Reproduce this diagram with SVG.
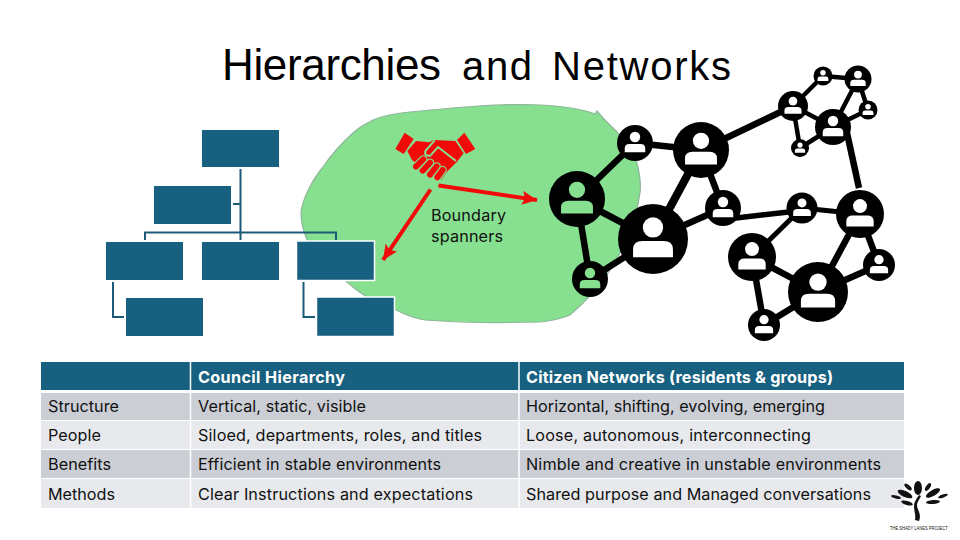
<svg xmlns="http://www.w3.org/2000/svg" width="960" height="540" viewBox="0 0 960 540">
<style>
text{font-family:"Inter","Liberation Sans",sans-serif;fill:#111}
.title{font-family:"Liberation Sans",sans-serif;font-size:44px;fill:#000}
.title2{font-size:40px}
.t{font-size:16.2px}
.h{font-size:16.2px;font-weight:700;fill:#fff}
.box{fill:#17607f}
.sel{stroke:#fff;stroke-width:1.5}
.org{fill:none;stroke:#1c5a78;stroke-width:2}
.edge{stroke:#000;fill:none}
.nd{fill:#000}
.w{fill:#fff}
.g{fill:#86e08f}
.hd{fill:#f00a0a}
.arrow{stroke:#f00a0a;stroke-width:4;fill:none}
.leaf{fill:#111}
.fh{stroke:#86e08f;stroke-width:25;stroke-linecap:round}
.fr{stroke:#f00a0a;stroke-width:18;stroke-linecap:round}
</style>
<defs>
<g id="person">
<circle cx="0" cy="-.33" r=".29"/>
<path d="M-.57 .52V.3Q-.57 .06-.3 .06H.3Q.57 .06 .57 .3V.52Z"/>
</g>
<marker id="ah" markerUnits="userSpaceOnUse" markerWidth="16" markerHeight="14" refX="15" refY="7" orient="auto">
<path d="M0 0L15 7L0 14L3 7Z" fill="#f00a0a"/>
</marker>
</defs>
<rect width="960" height="540" fill="#fff"/>
<path id="blob" d="M301 213C302 200 312 180 323 167C333 152 343 142 353 133C360 126 366 124 373 120C385 115 398 113 410 112C450 108 500 103 540 105C560 106 580 108 595 114L597 111L603 118L615 130C625 140 632 150 637 163C640 175 641 185 640 193C637 215 630 235 620 253C610 272 597 290 583 303L570 315C560 319 550 321 540 322C500 323 450 322 425 320C412 318 404 314 396 310C380 306 362 295 347 282C332 270 316 255 307 240C303 230 301 222 301 213Z" fill="#86e08f" stroke="#8fb59a" stroke-width="1.2"/>
<text class="title" x="222" y="79.500" textLength="219">Hierarchies</text>
<text class="title title2" x="462" y="79.500" textLength="70">and</text>
<text class="title title2" x="552" y="79.500" textLength="179">Networks</text>
<g id="org-connectors">
<path class="org" d="M240.500 169V240M233 204H240.500M145 240V232.500H336V240"/>
<path class="org" d="M113 282V317H124M303.500 282V317H315"/>
</g>
<g id="org-root"><rect class="box" x="202" y="130" width="77" height="37"/></g>
<g id="org-assistant"><rect class="box" x="154" y="186" width="77" height="38"/></g>
<g id="org-left"><rect class="box" x="106" y="242" width="77" height="38"/></g>
<g id="org-mid"><rect class="box" x="202" y="242" width="77" height="38"/></g>
<g id="org-right"><rect class="box sel" x="296.500" y="241" width="78" height="39.500"/></g>
<g id="org-left-child"><rect class="box" x="126" y="298" width="77" height="38"/></g>
<g id="org-right-child"><rect class="box sel" x="316.500" y="297" width="78" height="39.500"/></g>
<g id="handshake" transform="translate(392 125) scale(.3333)">
<path class="hd" d="M38 23L10 72L35 87L65 42ZM217 23L250 72L222 87L195 45Z"/>
<path class="hd" d="M46 78L72 48L112 52L125 45L190 48L215 85L195 110L165 140L147 165L130 160L60 105Z"/>
<path d="M128 46L100 78Q96 94 115 92L138 66L192 108" fill="none" stroke="#86e08f" stroke-width="6"/>
<path class="fh" d="M72 125L94 103"/><path class="fr" d="M72 125L94 103"/>
<path class="fh" d="M92 137L114 113"/><path class="fr" d="M92 137L114 113"/>
<path class="fh" d="M114 149L134 124"/><path class="fr" d="M114 149L134 124"/>
<path class="fh" d="M136 157L152 135"/><path class="fr" d="M136 157L152 135"/>
</g>
<g id="boundary-arrows">
<path class="arrow" d="M438.500 185.500L537 200" marker-end="url(#ah)"/>
<path class="arrow" d="M430.500 189.500L383 260" marker-end="url(#ah)"/>
</g>
<text class="t" x="431" y="221" textLength="75">Boundary</text>
<text class="t" x="431" y="242" textLength="72">spanners</text>
<g id="network-connectors">
<path class="edge" stroke-width="6.500" d="M577 199L635 143M635 143L701 150M577 199L653 239M577 199L590 279M590 279L653 239M653 239L723 208"/>
<path class="edge" stroke-width="5.500" d="M723 219.500L802 210.500"/>
<path class="edge" stroke-width="8" d="M701 150L653 239"/>
<path class="edge" stroke-width="6.500" d="M701 150L723 208M701 150L793 106"/>
<path class="edge" stroke-width="5" d="M802 208L860 214M752 257L802 208"/>
<path class="edge" stroke-width="6.500" d="M860 214L818 292M860 214L879 265M818 292L879 265M752 257L818 292M752 257L764 325M764 325L818 292"/>
<path class="edge" stroke-width="4.500" d="M793 106L833 127M793 106L823 76M823 76L858 79M793 106L800 148M800 148L833 127M858 79L868 110M868 110L833 127M858 79L833 127"/>
<path class="edge" stroke-width="6.500" d="M847 133L859 188"/>
</g>
<g id="node-a"><circle class="nd" cx="577" cy="199" r="28"/><use href="#person" class="g" transform="translate(577 199) scale(28)"/></g>
<g id="node-b"><circle class="nd" cx="635" cy="143" r="18"/><use href="#person" class="w" transform="translate(635 143) scale(18)"/></g>
<g id="node-c"><circle class="nd" cx="701" cy="150" r="28"/><use href="#person" class="w" transform="translate(701 150) scale(28)"/></g>
<g id="node-d"><circle class="nd" cx="653" cy="239" r="35"/><use href="#person" class="w" transform="translate(653 239) scale(35)"/></g>
<g id="node-e"><circle class="nd" cx="723" cy="208" r="18"/><use href="#person" class="w" transform="translate(723 208) scale(18)"/></g>
<g id="node-f"><circle class="nd" cx="590" cy="279" r="18"/><use href="#person" class="g" transform="translate(590 279) scale(18)"/></g>
<g id="node-g"><circle class="nd" cx="802" cy="208" r="15.500"/><use href="#person" class="w" transform="translate(802 208) scale(15.500)"/></g>
<g id="node-h"><circle class="nd" cx="860" cy="214" r="24"/><use href="#person" class="w" transform="translate(860 214) scale(24)"/></g>
<g id="node-i"><circle class="nd" cx="752" cy="257" r="24"/><use href="#person" class="w" transform="translate(752 257) scale(24)"/></g>
<g id="node-j"><circle class="nd" cx="818" cy="292" r="30"/><use href="#person" class="w" transform="translate(818 292) scale(30)"/></g>
<g id="node-k"><circle class="nd" cx="879" cy="265" r="16"/><use href="#person" class="w" transform="translate(879 265) scale(16)"/></g>
<g id="node-l"><circle class="nd" cx="764" cy="325" r="16"/><use href="#person" class="w" transform="translate(764 325) scale(16)"/></g>
<g id="node-m"><circle class="nd" cx="793" cy="106" r="15"/><use href="#person" class="w" transform="translate(793 106) scale(15)"/></g>
<g id="node-n"><circle class="nd" cx="833" cy="127" r="18"/><use href="#person" class="w" transform="translate(833 127) scale(18)"/></g>
<g id="node-o"><circle class="nd" cx="823" cy="76" r="9.500"/><use href="#person" class="w" transform="translate(823 76) scale(9.500)"/></g>
<g id="node-p"><circle class="nd" cx="858" cy="79" r="13.500"/><use href="#person" class="w" transform="translate(858 79) scale(13.500)"/></g>
<g id="node-q"><circle class="nd" cx="868" cy="110" r="9.500"/><use href="#person" class="w" transform="translate(868 110) scale(9.500)"/></g>
<g id="node-r"><circle class="nd" cx="800" cy="148" r="9"/><use href="#person" class="w" transform="translate(800 148) scale(9)"/></g>
<g id="table">
<rect x="41" y="362" width="863" height="28" fill="#17607f"/>
<rect x="41" y="393" width="863" height="27" fill="#cbced4"/>
<rect x="41" y="421" width="863" height="28" fill="#e7e9ec"/>
<rect x="41" y="450" width="863" height="28" fill="#cbced4"/>
<rect x="41" y="479" width="863" height="29" fill="#e7e9ec"/>
<path d="M190.500 362V508M519 362V508" stroke="#fff" stroke-width="1.500"/>
<text class="h" x="198" y="383" textLength="147">Council Hierarchy</text>
<text class="h" x="526" y="383" textLength="307">Citizen Networks (residents &amp; groups)</text>
<text class="t" x="48" y="411.500" textLength="71">Structure</text>
<text class="t" x="198" y="411.500" textLength="168">Vertical, static, visible</text>
<text class="t" x="526" y="411.500" textLength="299">Horizontal, shifting, evolving, emerging</text>
<text class="t" x="48" y="440.500" textLength="53">People</text>
<text class="t" x="198" y="440.500" textLength="284">Siloed, departments, roles, and titles</text>
<text class="t" x="526" y="440.500" textLength="285">Loose, autonomous, interconnecting</text>
<text class="t" x="48" y="469.500" textLength="63">Benefits</text>
<text class="t" x="198" y="469.500" textLength="243">Efficient in stable environments</text>
<text class="t" x="526" y="469.500" textLength="355">Nimble and creative in unstable environments</text>
<text class="t" x="48" y="499.500" textLength="67">Methods</text>
<text class="t" x="198" y="499.500" textLength="275">Clear Instructions and expectations</text>
<text class="t" x="526" y="499.500" textLength="345">Shared purpose and Managed conversations</text>
</g>
<g id="logo">
<path d="M919 521C922 514 917 510 917 505C917 502 919 500 921 496L919 495C917 498 914 502 914 506C914 511 916 515 915 520Z" fill="#111"/>
<ellipse class="leaf" cx="918" cy="488" rx="4" ry="7"/>
<ellipse class="leaf" cx="908" cy="487" rx="2" ry="4.500" transform="rotate(-50 908 487)"/>
<ellipse class="leaf" cx="928" cy="487" rx="2" ry="4.500" transform="rotate(35 928 487)"/>
<ellipse class="leaf" cx="905" cy="494" rx="3" ry="8" transform="rotate(-65 905 494)"/>
<ellipse class="leaf" cx="933" cy="493" rx="3" ry="8" transform="rotate(60 933 493)"/>
<ellipse class="leaf" cx="943" cy="496" rx="1.500" ry="5" transform="rotate(70 943 496)"/>
<ellipse class="leaf" cx="896" cy="497" rx="1.500" ry="5" transform="rotate(-75 896 497)"/>
<ellipse class="leaf" cx="907" cy="503" rx="2" ry="6" transform="rotate(-75 907 503)"/>
<ellipse class="leaf" cx="933" cy="502" rx="2" ry="7" transform="rotate(85 933 502)"/>
<text transform="translate(890 530) scale(.74 1)" style="font-size:5.500px;font-family:'Liberation Sans',sans-serif">THE SHADY LANES PROJECT</text>
</g>
</svg>
